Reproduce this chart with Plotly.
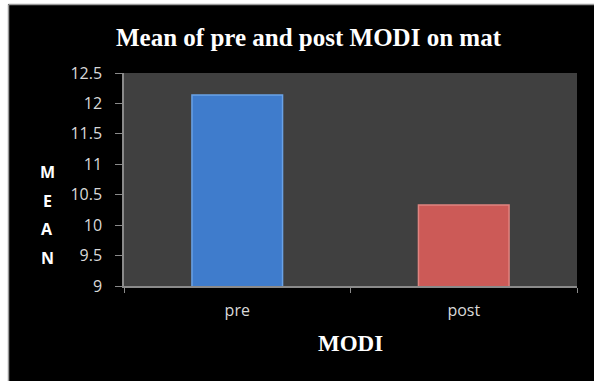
import plotly.graph_objects as go

# Mean MODI score before and after the mat intervention
categories = ["pre", "post"]
means = [12.14, 10.33]
bar_colors = ["#3f7ccc", "#cc5a57"]
edge_colors = ["#6aa2e6", "#e08480"]
y_title_letters = ["M", "E", "A", "N"]

W, H = 594, 381
ML, MR, MT, MB = 124, 17, 73, 95
PW, PH = W - ML - MR, H - MT - MB


def px_x(x):
    return (x - ML) / PW


def px_y(y):
    return 1 - (y - MT) / PH


fig = go.Figure(
    go.Bar(
        x=categories,
        y=means,
        marker=dict(color=bar_colors, line=dict(color=edge_colors, width=1.5)),
        width=0.4,
    )
)

# white frame strip on the left and top edges, with a thin grey rule
shapes = [
    dict(type="rect", xref="paper", yref="paper", x0=px_x(0), x1=px_x(8),
         y0=px_y(H), y1=px_y(0), fillcolor="white", line_width=0, layer="above"),
    dict(type="rect", xref="paper", yref="paper", x0=px_x(0), x1=px_x(W),
         y0=px_y(4), y1=px_y(0), fillcolor="white", line_width=0, layer="above"),
    dict(type="line", xref="paper", yref="paper", x0=px_x(8.5), x1=px_x(8.5),
         y0=px_y(H), y1=px_y(4.5), line=dict(color="#9a9a9a", width=1.5)),
    dict(type="line", xref="paper", yref="paper", x0=px_x(8.5), x1=px_x(W),
         y0=px_y(4.5), y1=px_y(4.5), line=dict(color="#9a9a9a", width=1.5)),
]

annotations = [
    dict(text="<b>Mean of pre and post MODI on mat</b>", xref="paper", yref="paper",
         x=px_x(309), y=px_y(37), showarrow=False, xanchor="center", yanchor="middle",
         font=dict(family="Liberation Serif", size=25, color="white")),
    dict(text="<b>MODI</b>", xref="paper", yref="paper",
         x=px_x(350), y=px_y(343), showarrow=False, xanchor="center", yanchor="middle",
         font=dict(family="Liberation Serif", size=23, color="white")),
]
# stacked letters of the vertical axis title
for i, letter in enumerate(y_title_letters):
    annotations.append(
        dict(text="<b>" + letter + "</b>", xref="paper", yref="paper",
             x=px_x(47), y=px_y(172 + 28.5 * i), showarrow=False,
             xanchor="center", yanchor="middle",
             font=dict(family="Open Sans", size=16, color="white"))
    )

fig.update_layout(
    width=W, height=H,
    margin=dict(l=ML, r=MR, t=MT, b=MB, pad=0),
    paper_bgcolor="black",
    plot_bgcolor="#404040",
    showlegend=False,
    bargap=0.6,
    shapes=shapes,
    annotations=annotations,
    xaxis=dict(
        showgrid=False, showline=True, linecolor="#8a8a8a", linewidth=1.5,
        ticks="outside", tickson="boundaries", ticklen=5, tickcolor="#8a8a8a",
        tickfont=dict(family="Open Sans", size=16, color="#d9d9d9"),
        ticklabelstandoff=9,
    ),
    yaxis=dict(
        range=[9, 12.5], dtick=0.5, tick0=9, showgrid=False, zeroline=False,
        showline=True, linecolor="#8a8a8a", linewidth=1.5,
        ticks="outside", ticklen=7, tickcolor="#8a8a8a",
        tickfont=dict(family="Open Sans", size=16, color="#d9d9d9"),
        ticklabelstandoff=10,
    ),
)

fig.write_html("out.html")
